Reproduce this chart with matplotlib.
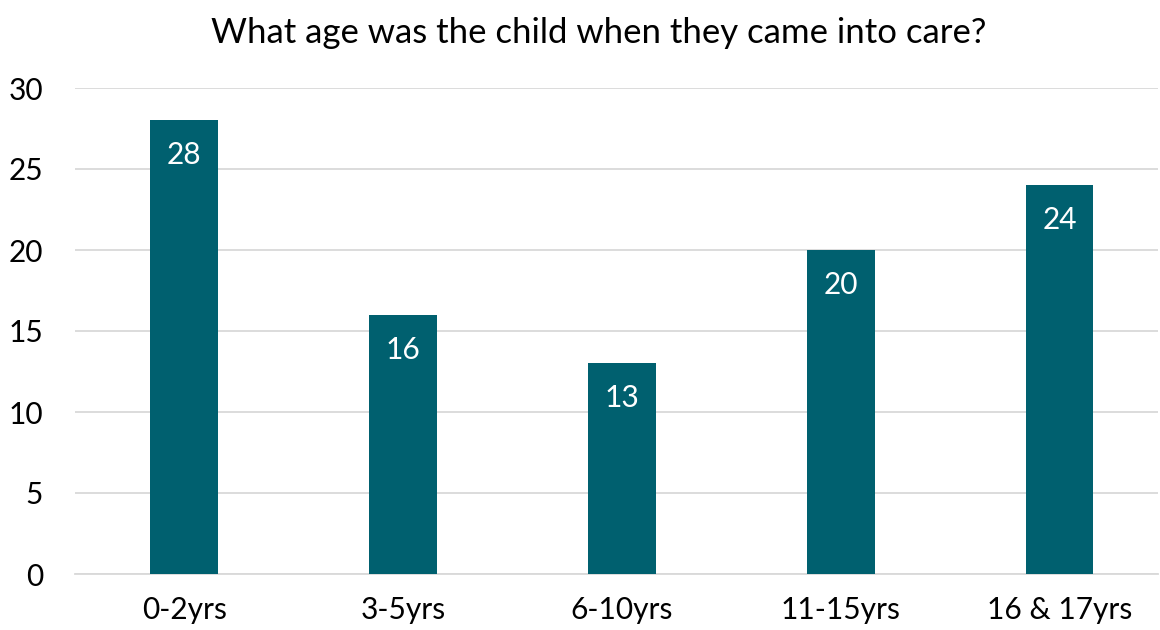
import matplotlib
matplotlib.use("Agg")
import matplotlib.pyplot as plt

categories = ["0-2yrs", "3-5yrs", "6-10yrs", "11-15yrs", "16 & 17yrs"]
values = [28, 16, 13, 20, 24]
yticks = [0, 5, 10, 15, 20, 25, 30]
title = "What age was the child when they came into care?"

plt.rcParams['font.family'] = ['Lato', 'DejaVu Sans']
bar_color = "#00606F"
grid_color = "#D9D9D9"

fig = plt.figure(figsize=(11.6, 6.3), dpi=100)
ax = fig.add_axes([75/1160, 1-574/630, (1158-75)/1160, (574-88)/630])
x = list(range(len(categories)))
bars = ax.bar(x, values, width=0.31, color=bar_color, zorder=3)
for xi, v in zip(x, values):
    ax.annotate(str(v), (xi, v), xytext=(0, -35), textcoords="offset pixels",
                ha="center", va="center", color="white", fontsize=21.5, zorder=4)

ax.set_xlim(-0.5, 4.45)
ax.set_ylim(0, 30)
ax.set_yticks(yticks)
ax.set_xticks(x)
ax.set_xticklabels(categories)
ax.tick_params(axis='both', length=0, labelsize=21.5, colors='black')
ax.tick_params(axis='y', pad=23)
ax.tick_params(axis='x', pad=16)
ax.grid(axis='y', color=grid_color, linewidth=1.3, zorder=0)
for s in ['top', 'right', 'left']:
    ax.spines[s].set_visible(False)
ax.spines['bottom'].set_color(grid_color)
ax.spines['bottom'].set_linewidth(1.3)
fig.text(599/1160, 1-33/630, title, ha='center', va='center', fontsize=25)
fig.savefig("out.png", dpi=100)
